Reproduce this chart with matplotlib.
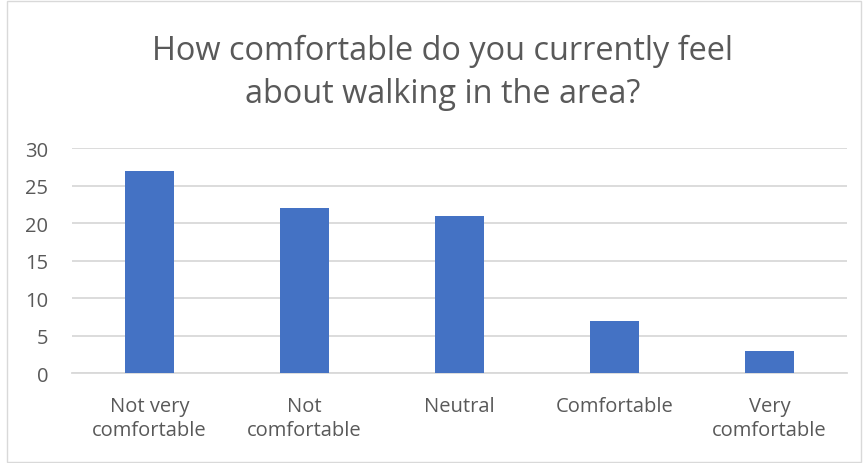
import matplotlib
matplotlib.use("Agg")
import matplotlib.pyplot as plt
from matplotlib.patches import Rectangle

categories = ["Not very\ncomfortable", "Not\ncomfortable", "Neutral", "Comfortable", "Very\ncomfortable"]
counts = [27, 22, 21, 7, 3]
yticks = [0, 5, 10, 15, 20, 25, 30]

TEXT = "#595959"
GRID = "#d9d9d9"
BAR = "#4472c4"

plt.rcParams["font.family"] = ["Open Sans", "DejaVu Sans"]

fig = plt.figure(figsize=(8.64, 4.64), dpi=100)
ax = fig.add_axes([72 / 864, 1 - 374.3 / 464, 775 / 864, 225 / 464])

x = range(len(categories))
ax.bar(x, counts, width=0.31, color=BAR, zorder=3)

ax.set_xlim(-0.5, len(categories) - 0.5)
ax.set_ylim(0, 30)
ax.set_yticks(yticks)
ax.set_xticks(list(x))
ax.set_xticklabels(categories, linespacing=1.3)
ax.yaxis.grid(True, color=GRID, linewidth=1.3, zorder=0)
ax.tick_params(axis="both", length=0, colors=TEXT, labelsize=14.5)
ax.tick_params(axis="y", pad=17)
ax.tick_params(axis="x", pad=16)
for side in ["top", "right", "left"]:
    ax.spines[side].set_visible(False)
ax.spines["bottom"].set_color(GRID)
ax.spines["bottom"].set_linewidth(1.3)

fig.text(0.512, 1 - 73 / 464, "How comfortable do you currently feel\nabout walking in the area?",
         ha="center", va="center", fontsize=23.4, color=TEXT, linespacing=1.4)

fig.patches.append(Rectangle((7 / 864, 1 / 464), 854 / 864, 461 / 464, transform=fig.transFigure,
                             fill=False, edgecolor=GRID, linewidth=1))

fig.savefig("out.png", dpi=100)
